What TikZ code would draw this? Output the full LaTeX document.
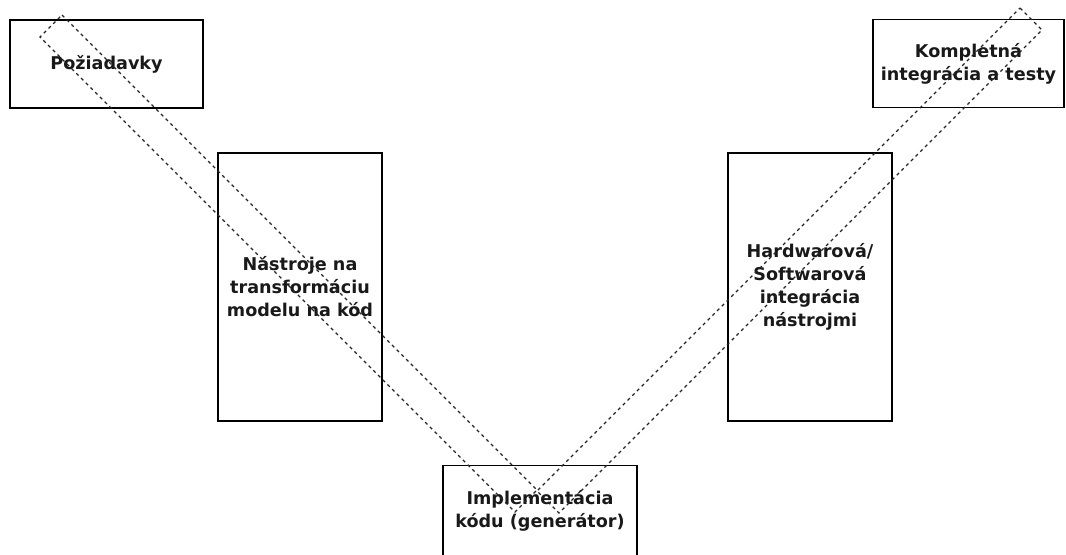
\documentclass[tikz,border=0pt]{standalone}
\usepackage{fontspec}
\setmainfont{DejaVu Sans}
\begin{document}
\begin{tikzpicture}[x=0.75pt,y=-0.75pt,
  box/.style={draw=black, line width=1pt, rectangle, inner sep=0pt, align=center,
    text=black!90, font=\fontsize{13.2}{17.3}\selectfont\bfseries},
  dashrect/.style={draw=black!85, line width=1pt, dash pattern=on 2.4pt off 2.6pt}]
\useasboundingbox (0,0) rectangle (1066,554);
\node[box, minimum width=144.75pt, minimum height=66pt] (req) at (106.5,64) {Požiadavky};
\node[box, minimum width=143.25pt, minimum height=66pt] (full) at (968.5,63.5) {Kompletná\\integrácia a testy};
\node[box, minimum width=123pt, minimum height=201pt] (tools) at (300,287) {Nástroje na\\transformáciu\\modelu na kód};
\node[box, minimum width=123pt, minimum height=201pt] (hwsw) at (810,287) {Hardwarová/\\Softwarová\\integrácia\\nástrojmi};
\node[box, minimum width=145.5pt, minimum height=68pt] (impl) at (540,511) {Implementácia\\kódu (generátor)};
% left dashed band
\coordinate (l1) at (62,15);
\coordinate (l2) at (537,490);
\coordinate (l3) at (515,512);
\coordinate (l4) at (40,37);
\draw[dashrect] (l1) -- (l2) -- (l3) -- (l4) -- cycle;
% right dashed band
\coordinate (r1) at (1020,8);
\coordinate (r2) at (1042,30);
\coordinate (r3) at (559,513);
\coordinate (r4) at (537,491);
\draw[dashrect] (r1) -- (r2) -- (r3) -- (r4) -- cycle;
\end{tikzpicture}
\end{document}
